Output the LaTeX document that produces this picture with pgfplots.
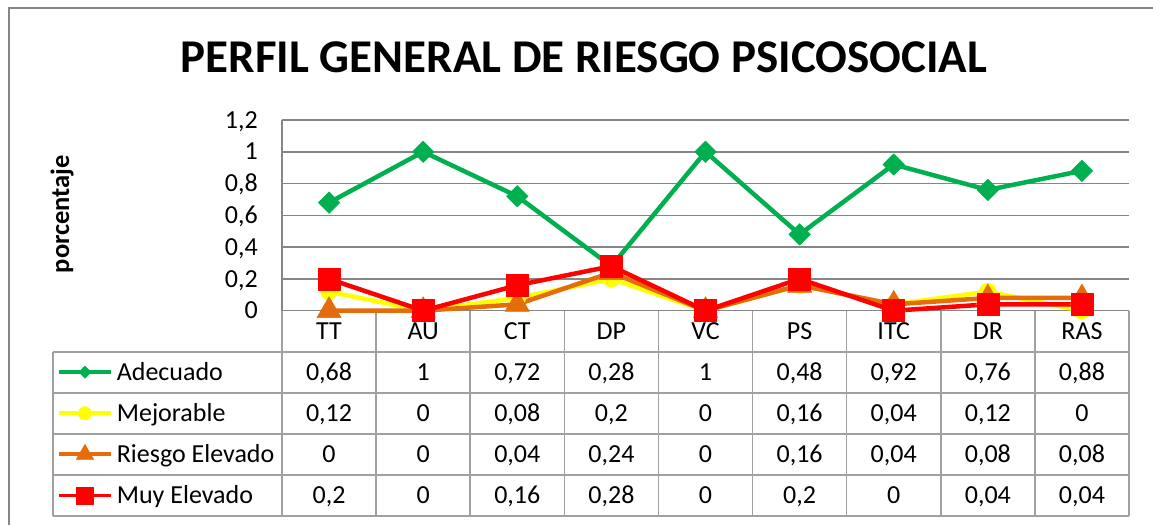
\documentclass[border=0pt]{standalone}
\usepackage{fontspec}
\setmainfont{Carlito}
\usepackage{pgfplots}
\usepackage{pgfplotstable}
\pgfplotsset{compat=1.18}
\definecolor{cA}{HTML}{00B050}
\definecolor{cM}{HTML}{FFFF00}
\definecolor{cR}{HTML}{E46C0A}
\definecolor{cE}{HTML}{FF0000}
\definecolor{gridc}{HTML}{868686}
\definecolor{tabc}{HTML}{A0A0A0}
\newcommand\tf{\fontsize{26}{30}\selectfont}

\pgfplotstableread{
cat A M R E
TT 0.68 0.12 0 0.2
AU 1 0 0 0
CT 0.72 0.08 0.04 0.16
DP 0.28 0.2 0.24 0.28
VC 1 0 0 0
PS 0.48 0.16 0.16 0.2
ITC 0.92 0.04 0.04 0
DR 0.76 0.12 0.08 0.04
RAS 0.88 0 0.08 0.04
}\datatable

\begin{document}
\begin{tikzpicture}[x=1pt,y=1pt]
\useasboundingbox (0,0) rectangle (1153,525);
\fill[white] (0,0) rectangle (1153,525);
\draw[gridc, line width=2pt] (9,0) -- (9,517) -- (1153,517);
\node[anchor=base, font=\fontsize{47}{54}\selectfont\bfseries, inner sep=0pt] at (584,452) {PERFIL GENERAL DE RIESGO PSICOSOCIAL};
\node[rotate=90, font=\fontsize{26.5}{30}\selectfont\bfseries] at (62,311) {porcentaje};
\begin{scope}[tabc, line width=1.5pt]
\foreach \k in {1,...,5} \draw (53, {214.3-41.06*\k}) -- (1129, {214.3-41.06*\k});
\draw (53,{214.3-41.06}) -- (53, {214.3-41.06*5});
\foreach \k in {0,...,9} \draw ({282+94.111*\k},214.3) -- ({282+94.111*\k},{214.3-41.06*5});
\draw (282,214.3) -- (1129,214.3);
\end{scope}
\foreach \c [count=\j from 0] in {A,M,R,E} {
  \foreach \r in {0,...,8} {
    \pgfplotstablegetelem{\r}{\c}\of\datatable
    \node[anchor=base, font=\tf, inner sep=0pt] at ({282+94.111*(\r+0.5)}, {214.3-41.06*(\j+1.5)-8.3}) {\pgfmathprintnumber[fixed, precision=2, use comma, assume math mode=true]{\pgfplotsretval}};
  }
}
\begin{axis}[
  at={(282pt,214.3pt)}, anchor=south west, scale only axis,
  width=847pt, height=190.7pt,
  xmin=-0.5, xmax=8.5, ymin=0, ymax=1.2,
  clip=false,
  axis x line*=bottom, axis y line*=left,
  axis line style={gridc, line width=1.5pt, -},
  ymajorgrids, grid style={gridc, line width=1.5pt},
  major tick length=0pt,
  xtick={0,...,8}, xticklabels={TT,AU,CT,DP,VC,PS,ITC,DR,RAS},
  xticklabel style={font=\tf, anchor=base, inner sep=0pt, yshift=-28.8pt},
  ytick={0,0.2,0.4,0.6,0.8,1,1.2},
  /pgf/number format/use comma, /pgf/number format/assume math mode=true,
  yticklabel style={font=\tf, anchor=east, inner sep=0pt, xshift=-24pt, text height=16.4pt, text depth=0pt},
  legend cell align=left,
  legend image code/.code={\draw[mark repeat=2, mark phase=2, #1] plot coordinates {(0pt,0pt) (26pt,0pt) (52pt,0pt)};},
  legend style={at={(-0.2656,-0.2150)}, anchor=north west, draw=none, fill=none,
    inner sep=0pt, outer sep=0pt, row sep=0pt, column sep=4pt, font=\tf,
    nodes={inner sep=0pt, minimum height=41.06pt, text height=16.7pt, text depth=0pt}},
  every axis plot/.append style={line width=4.5pt, line join=round},
]
\addplot[cA, mark=square*, mark size=7.6pt, mark options={rotate=45, solid, line width=0.5pt, fill=cA},
  legend image post style={mark size=4.3pt, line width=3.8pt}]
  table[x expr=\coordindex, y=A]{\datatable};
\addlegendentry{Adecuado}
\addplot[cM, mark=*, mark size=8.5pt, mark options={solid, line width=0.5pt, fill=cM},
  legend image post style={mark size=6.7pt, line width=3.8pt}]
  table[x expr=\coordindex, y=M]{\datatable};
\addlegendentry{Mejorable}
\addplot[cR, mark=triangle*, mark size=14pt, mark options={solid, line width=0.5pt, fill=cR},
  legend image post style={mark size=10pt, line width=3.8pt}]
  table[x expr=\coordindex, y=R]{\datatable};
\addlegendentry{Riesgo Elevado}
\addplot[cE, mark=square*, mark size=11pt, mark options={solid, line width=0.5pt, fill=cE},
  legend image post style={mark size=8.5pt, line width=3.8pt}]
  table[x expr=\coordindex, y=E]{\datatable};
\addlegendentry{Muy Elevado}
\end{axis}
\end{tikzpicture}
\end{document}
